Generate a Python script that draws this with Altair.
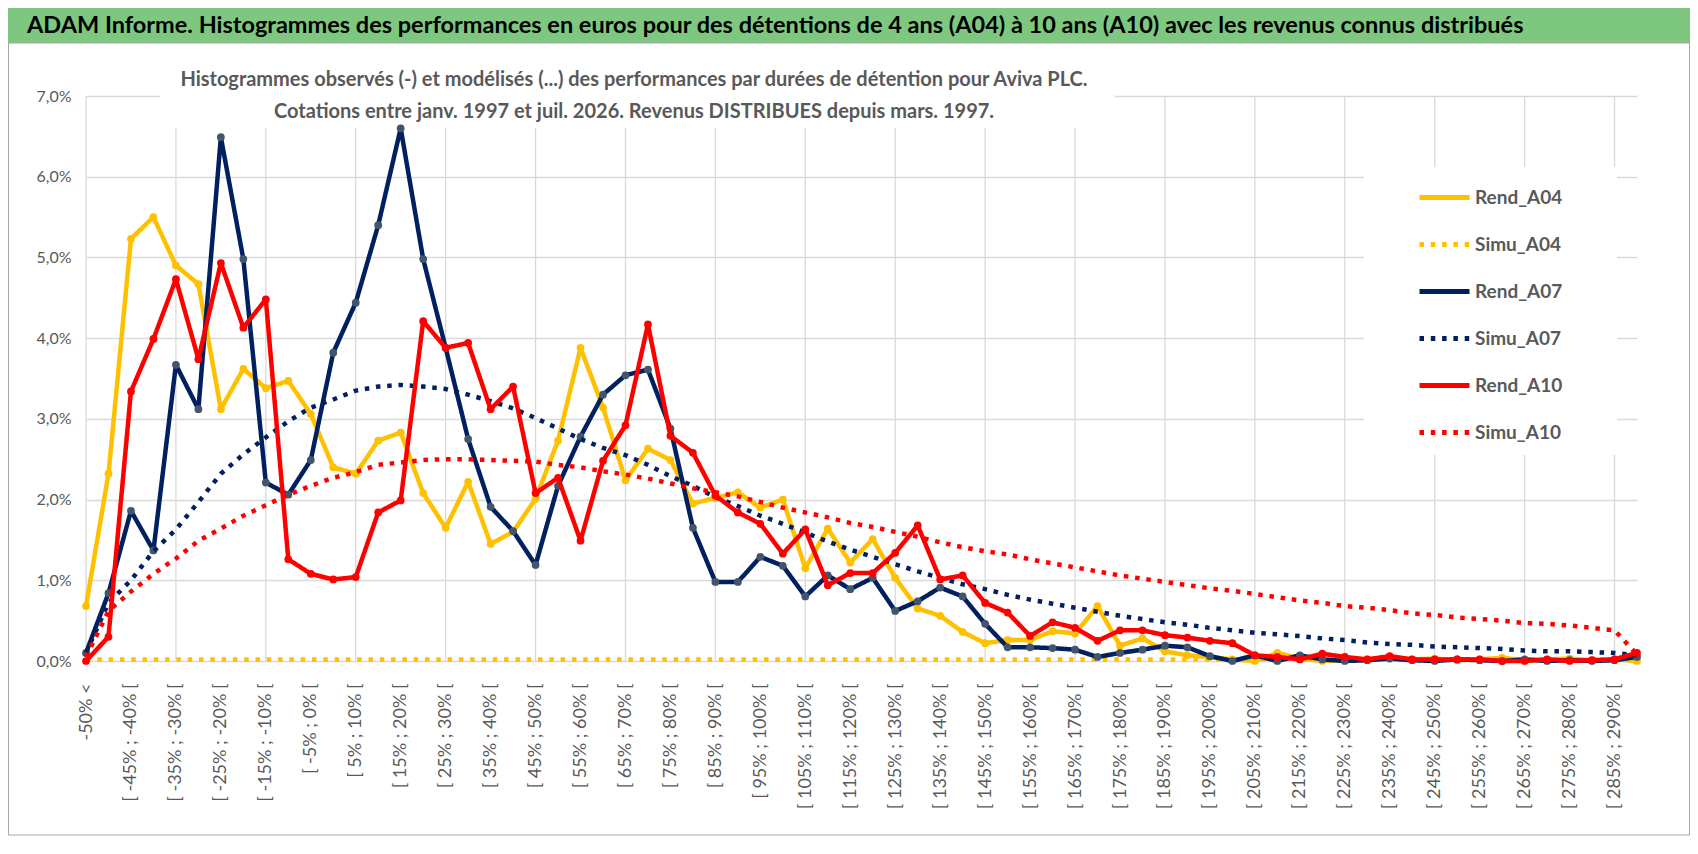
import altair as alt
import pandas as pd

# categories: "-50% <" then 5% bins up to 295%
CATS = ["-50% <"] + [f"[ {a}% ; {a + 5}% [" for a in range(-50, 295, 5)]

# values in %
REND_A04 = [0.68, 2.32, 5.23, 5.50, 4.90, 4.67, 3.12, 3.62, 3.38, 3.47,
            3.06, 2.40, 2.32, 2.73, 2.83, 2.08, 1.65, 2.22, 1.45, 1.60,
            2.01, 2.73, 3.88, 3.14, 2.24, 2.63, 2.49, 1.95, 2.02, 2.09,
            1.90, 2.00, 1.15, 1.64, 1.22, 1.51, 1.03, 0.65, 0.56, 0.36,
            0.22, 0.26, 0.26, 0.37, 0.34, 0.68, 0.19, 0.28, 0.12, 0.07,
            0.05, 0.02, 0.00, 0.10, 0.03, 0.00, 0.01, 0.02, 0.05, 0.02,
            0.03, 0.01, 0.02, 0.04, 0.01, 0.02, 0.03, 0.01, 0.02, 0.00]
SIMU_A04 = [0.02] * 70
REND_A07 = [0.10, 0.84, 1.86, 1.37, 3.67, 3.12, 6.49, 4.98, 2.21, 2.06,
            2.49, 3.82, 4.44, 5.40, 6.60, 4.98, 3.88, 2.75, 1.91, 1.61,
            1.19, 2.17, 2.78, 3.30, 3.54, 3.61, 2.88, 1.65, 0.98, 0.98,
            1.29, 1.18, 0.80, 1.06, 0.89, 1.03, 0.62, 0.74, 0.91, 0.80,
            0.46, 0.17, 0.17, 0.16, 0.14, 0.05, 0.10, 0.14, 0.19, 0.17,
            0.06, 0.00, 0.07, 0.00, 0.07, 0.02, 0.00, 0.01, 0.03, 0.01,
            0.00, 0.02, 0.01, 0.00, 0.02, 0.00, 0.01, 0.00, 0.01, 0.05]
SIMU_A07 = [0.10, 0.72, 1.00, 1.36, 1.63, 1.97, 2.32, 2.56, 2.77, 2.97,
            3.14, 3.24, 3.35, 3.40, 3.42, 3.40, 3.37, 3.30, 3.22, 3.13,
            3.01, 2.88, 2.75, 2.64, 2.55, 2.43, 2.29, 2.17, 2.03, 1.92,
            1.80, 1.70, 1.59, 1.48, 1.38, 1.29, 1.20, 1.11, 1.03, 0.95,
            0.89, 0.82, 0.76, 0.71, 0.66, 0.61, 0.56, 0.52, 0.48, 0.45,
            0.41, 0.38, 0.35, 0.33, 0.31, 0.28, 0.26, 0.23, 0.21, 0.20,
            0.18, 0.17, 0.16, 0.15, 0.13, 0.12, 0.12, 0.11, 0.10, 0.07]
REND_A10 = [0.00, 0.30, 3.34, 3.99, 4.73, 3.74, 4.93, 4.13, 4.48, 1.26,
            1.08, 1.01, 1.04, 1.84, 1.99, 4.21, 3.88, 3.94, 3.12, 3.40,
            2.08, 2.27, 1.49, 2.48, 2.92, 4.17, 2.79, 2.58, 2.05, 1.84,
            1.70, 1.33, 1.63, 0.94, 1.09, 1.09, 1.34, 1.68, 1.01, 1.06,
            0.72, 0.60, 0.31, 0.48, 0.41, 0.25, 0.38, 0.38, 0.32, 0.29,
            0.25, 0.22, 0.07, 0.05, 0.02, 0.09, 0.05, 0.02, 0.06, 0.02,
            0.02, 0.02, 0.02, 0.00, 0.00, 0.02, 0.00, 0.01, 0.02, 0.10]
SIMU_A10 = [0.05, 0.62, 0.86, 1.08, 1.27, 1.49, 1.64, 1.80, 1.93, 2.06,
            2.17, 2.27, 2.34, 2.43, 2.46, 2.49, 2.50, 2.50, 2.49, 2.48,
            2.47, 2.43, 2.40, 2.35, 2.31, 2.26, 2.20, 2.14, 2.09, 2.04,
            1.97, 1.90, 1.84, 1.78, 1.71, 1.66, 1.60, 1.54, 1.47, 1.41,
            1.36, 1.32, 1.26, 1.21, 1.16, 1.11, 1.06, 1.02, 0.98, 0.94,
            0.90, 0.87, 0.83, 0.79, 0.75, 0.72, 0.68, 0.66, 0.63, 0.59,
            0.57, 0.54, 0.52, 0.50, 0.47, 0.46, 0.44, 0.41, 0.38, 0.08]

SERIES = ["Rend_A04", "Simu_A04", "Rend_A07", "Simu_A07", "Rend_A10", "Simu_A10"]
VALUES = [REND_A04, SIMU_A04, REND_A07, SIMU_A07, REND_A10, SIMU_A10]
COLORS = ["#FFC000", "#FFC000", "#002060", "#002060", "#FF0000", "#FF0000"]
MARKERS = {"Rend_A04": "#FFC000", "Rend_A07": "#44546A", "Rend_A10": "#FF0000"}
DASHES = [[1, 0], [4.5, 6.8], [1, 0], [4.5, 6.8], [1, 0], [4.5, 6.8]]

TITLE = ("ADAM Informe. Histogrammes des performances en euros pour des détentions "
         "de 4 ans (A04) à 10 ans (A10) avec les revenus connus distribués")
SUB1 = ("Histogrammes observés (-) et modélisés (...) des performances par durées "
        "de détention pour Aviva PLC.")
SUB2 = "Cotations entre janv. 1997 et juil. 2026. Revenus DISTRIBUES depuis mars. 1997."

rows = []
for name, vals in zip(SERIES, VALUES):
    for c, v in zip(CATS, vals):
        rows.append({"cat": c, "val": v / 100, "serie": name})
df = pd.DataFrame(rows)

W, H = 1551, 565
GREY = "#595959"
FONT = "Lato"

x_enc = alt.X("cat:O", title=None,
              scale=alt.Scale(type="point", domain=CATS, padding=0),
              axis=alt.Axis(values=CATS[::2], labelAngle=-90, labelPadding=22,
                            labelFont=FONT, labelFontSize=18, labelColor=GREY,
                            ticks=False, domain=False, grid=False, labelLimit=300))
y_enc = alt.Y("val:Q", title=None,
              scale=alt.Scale(domain=[0, 0.07], nice=False),
              axis=alt.Axis(values=[0, 0.01, 0.02, 0.03, 0.04, 0.05, 0.06, 0.07],
                            labelExpr="replace(format(datum.value, '.1%'), '.', ',')",
                            gridColor="#D9D9D9", gridWidth=1.3, domain=False, ticks=False,
                            labelPadding=15, labelFont=FONT, labelFontSize=16,
                            labelColor=GREY))

leg = alt.Legend(orient="none", legendX=1331, legendY=74, title=None,
                 symbolType="stroke", symbolSize=2500, symbolStrokeWidth=5,
                 labelFont=FONT, labelFontSize=19, labelFontWeight="bold",
                 labelColor=GREY, labelOffset=3, rowPadding=9)

one = pd.DataFrame({"t": [""]})


def box(x1, x2, y1, y2, **kw):
    return alt.Chart(one).mark_rect(**kw).encode(
        x=alt.value(x1), x2=alt.value(x2), y=alt.value(y1), y2=alt.value(y2))


def label(text, x, y, **kw):
    return alt.Chart(pd.DataFrame({"t": [text]})).mark_text(**kw).encode(
        x=alt.value(x), y=alt.value(y), text="t:N")


layers = []
# vertical gridlines every 4 categories
layers.append(alt.Chart(pd.DataFrame({"cat": CATS[::4]})).mark_rule(
    color="#D9D9D9", strokeWidth=1.3).encode(x=x_enc, y=alt.value(0), y2=alt.value(H)))
# green title band, frame, white boxes behind subtitle and legend
layers.append(box(-78, W + 53, -88, -53, color="#7DC87E"))
layers.append(box(-77.5, W + 52.5, -53, H + 174, fill="white", fillOpacity=0,
                  stroke="#A6A6A6", strokeWidth=1))
layers.append(box(74, 1029, -46, 32, color="white"))
layers.append(box(1278, 1531, 71, 359, color="white"))
layers.append(label(TITLE, -59, -70, align="left", baseline="middle", font=FONT,
                    fontSize=23.5, fontWeight="bold", color="black"))
layers.append(label(SUB1, 548, -16, align="center", baseline="middle", font=FONT,
                    fontSize=20, fontWeight="bold", color=GREY))
layers.append(label(SUB2, 548, 16, align="center", baseline="middle", font=FONT,
                    fontSize=20, fontWeight="bold", color=GREY))

for name in SERIES:
    sub = alt.Chart(df).transform_filter(alt.datum.serie == name)
    simu = name.startswith("Simu")
    layers.append(sub.mark_line(strokeWidth=4.5, strokeCap="butt" if simu else "round",
                                strokeJoin="round").encode(
        x=x_enc, y=y_enc,
        color=alt.Color("serie:N", scale=alt.Scale(domain=SERIES, range=COLORS), legend=leg),
        strokeDash=alt.StrokeDash("serie:N", scale=alt.Scale(domain=SERIES, range=DASHES),
                                  legend=leg)))
    if name in MARKERS:
        layers.append(sub.mark_circle(size=60, opacity=1, color=MARKERS[name]).encode(
            x=x_enc, y=y_enc))

chart = alt.layer(*layers).properties(
    width=W, height=H, autosize="none",
    padding={"left": 78, "top": 88, "right": 53, "bottom": 175},
).configure_view(strokeWidth=0)

chart.save("out.html", embed_options={"renderer": "svg", "actions": False})
